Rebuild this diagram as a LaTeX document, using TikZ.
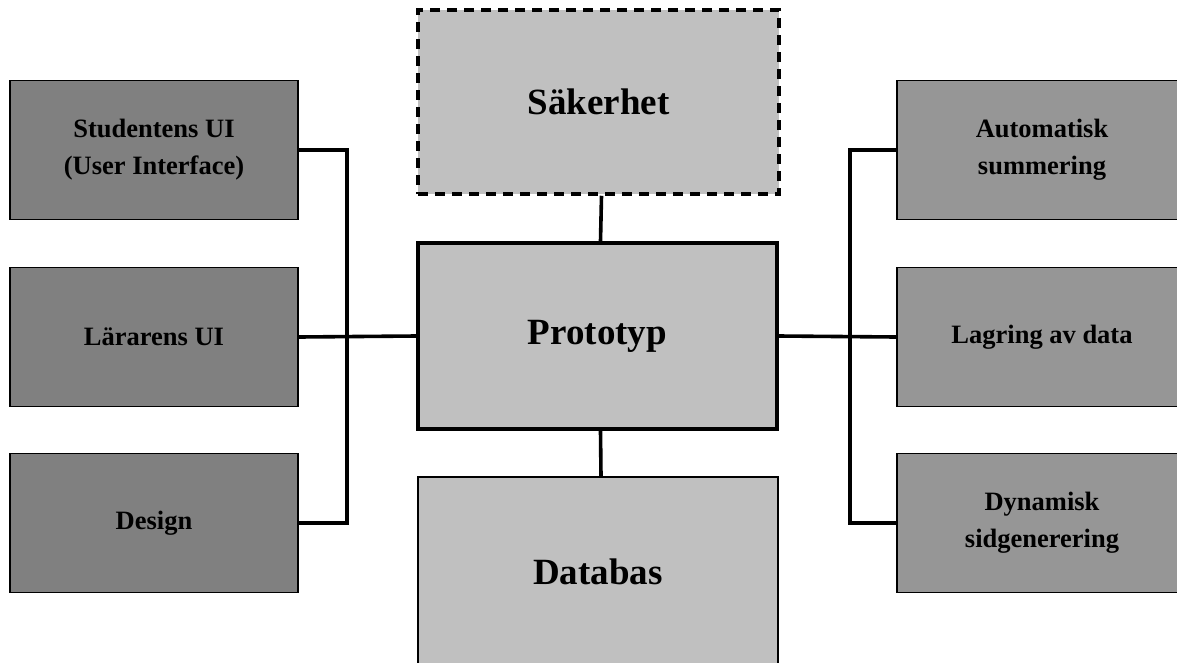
\documentclass[tikz,border=0pt]{standalone}
\usepackage{fontspec}
\setmainfont{Liberation Serif}
\begin{document}
\begin{tikzpicture}[x=1pt,y=-1pt,
  box/.style={draw=black, line width=1.6pt, inner sep=0pt, align=center,
    font=\bfseries\fontsize{26.5}{37}\selectfont},
  leftbox/.style={box, fill=gray80, minimum width=288pt, minimum height=139pt},
  rightbox/.style={box, fill=gray96, minimum width=290pt, minimum height=139pt},
  mainbox/.style={box, fill=grayC0, font=\bfseries\fontsize{37}{44}\selectfont},
  conn/.style={draw=black, line width=3.6pt},
]
\definecolor{gray80}{HTML}{808080}
\definecolor{gray96}{HTML}{969696}
\definecolor{grayC0}{HTML}{C0C0C0}
\useasboundingbox (0,0) rectangle (1177,662);

% left column
\node[leftbox] (stud) at (154,150) {Studentens UI\\(User Interface)};
\node[leftbox] (lar)  at (154,337) {Lärarens UI};
\node[leftbox] (des)  at (154,523) {Design};

% right column (runs past the right edge)
\node[rightbox] (auto) at (1042,150) {Automatisk\\summering};
\node[rightbox] (lag)  at (1042,337) {Lagring av data};
\node[rightbox] (dyn)  at (1042,523) {Dynamisk\\sidgenerering};

% centre column
\node[mainbox, line width=3.5pt, dash pattern=on 10pt off 7pt,
  minimum width=361pt, minimum height=184pt] (sak) at (598.5,102) {Säkerhet};
\node[mainbox, line width=4.2pt, minimum width=359pt, minimum height=186pt]
  (proto) at (597.5,336) {Prototyp};
\node[mainbox, minimum width=360pt, minimum height=190pt] (db) at (598,572) {Databas};

% bus lines
\coordinate (bl) at (347,336);
\coordinate (br) at (850,336);

\draw[conn] (stud.east) -| (bl) |- (des.east);
\draw[conn] (lar.east) -- (proto.west);
\draw[conn] (auto.west) -| (br) |- (dyn.west);
\draw[conn] (lag.west) -- (proto.east);
\draw[conn] ([xshift=3pt]sak.south) -- ([xshift=3pt]proto.north);
\draw[conn] ([xshift=3pt]proto.south) -- ([xshift=3pt]db.north);
\end{tikzpicture}
\end{document}
